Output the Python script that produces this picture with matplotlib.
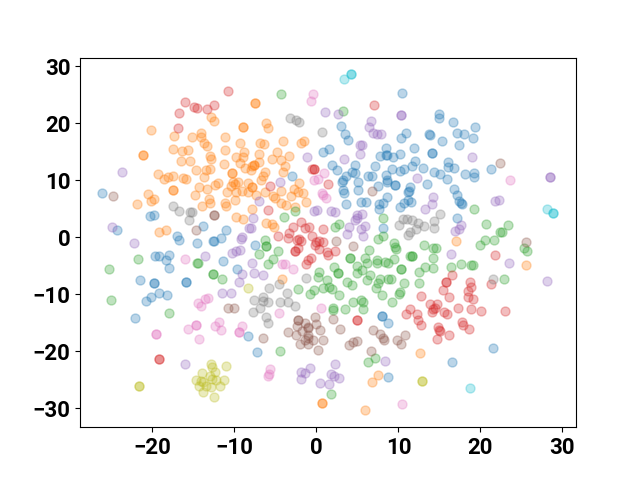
import numpy as np
import matplotlib
matplotlib.use('Agg')
import matplotlib.pyplot as plt

plt.rcParams['font.family'] = ['Roboto', 'DejaVu Sans']

blue = [(-26.11, 7.7), (-20.33, 3.67), (-19.8, 3.84), (-24.32, 1.21), (-13.87, 1.97), (-17.0, 0.27), (-16.76, -0.43),
        (-14.56, -1.01), (-11.02, 1.33), (-11.68, -0.08), (-12.45, -0.6), (-12.57, -0.6), (-19.64, -3.29), (-19.24, -3.35),
        (-17.98, -3.06), (-18.38, -4.0), (-17.94, -5.46), (-11.35, -4.17), (-9.72, -5.57), (-21.47, -7.45), (-19.8, -8.03),
        (-19.8, -8.03), (-15.86, -7.8), (-15.86, -7.8), (-19.2, -9.73), (-20.21, -10.55), (-20.74, -11.19), (-18.26, -10.14),
        (-22.12, -14.11), (-8.34, -17.39), (-7.29, -20.08), (-7.53, -1.42), (-2.94, 10.8),
        (10.48, 25.3), (2.96, 19.45), (3.48, 18.05), (3.89, 17.11), (0.8, 15.0), (1.53, 15.48), (10.88, 18.28), (10.35, 17.35),
        (8.44, 15.65), (7.75, 14.25), (8.48, 14.42), (8.6, 14.42), (9.38, 14.07), (10.23, 14.6), (1.94, 12.61), (2.55, 11.73),
        (4.66, 12.61), (4.34, 11.38), (4.7, 11.26), (3.61, 10.8), (3.28, 10.09), (7.2, 12.49), (6.33, 10.68), (6.82, 10.68),
        (8.48, 10.91), (9.22, 12.02), (10.23, 11.56), (10.72, 12.02), (8.57, 10.09),
        (14.99, 21.67), (14.99, 20.97), (16.65, 20.27), (19.3, 19.33), (17.14, 18.22), (18.0, 18.11), (19.09, 17.4),
        (13.69, 18.17), (13.85, 17.93), (15.35, 16.82), (17.34, 16.18), (11.9, 15.59), (14.09, 14.77), (14.09, 14.77),
        (12.06, 13.43), (11.69, 12.49), (13.04, 12.14), (14.38, 11.5), (15.03, 11.15), (16.08, 13.25), (16.08, 12.31),
        (16.82, 12.08), (18.16, 11.09), (19.26, 11.32), (19.17, 10.56), (15.96, 10.15), (21.33, 11.91),
        (3.28, 8.29), (3.36, 7.7), (3.16, 9.75), (5.11, 8.29), (3.57, 5.77), (5.4, 6.24), (6.0, 6.12), (7.55, 9.05), (8.57, 9.75),
        (9.58, 9.16), (9.58, 9.16), (8.61, 7.12), (7.63, 4.89), (7.67, 5.83), (8.16, 5.95), (10.68, 5.95), (10.19, 5.24),
        (11.21, 6.53), (8.12, 1.68), (5.11, 9.75), (13.52, 9.28), (11.33, 8.11), (11.21, 7.88), (11.49, 6.24), (16.82, 8.46),
        (17.1, 7.41), (17.43, 6.41), (17.63, 5.95), (17.79, 5.77), (17.18, 3.43), (11.37, 8.75),
        (8.0, -13.82), (8.0, -13.82), (8.73, -15.11), (8.73, -24.52), (21.57, -19.43), (16.53, -21.83)]

orange = [(-20.13, 18.81), (-8.95, 19.33), (-8.95, 19.33), (-12.85, 21.03), (-12.49, 20.45), (-17.33, 17.76), (-15.21, 17.64),
          (-14.11, 18.34), (-14.03, 17.58), (-13.75, 16.47), (-13.38, 15.94), (-11.15, 17.52), (-9.28, 16.53), (-17.45, 15.42),
          (-16.43, 15.18), (-15.62, 15.24), (-11.11, 15.3), (-8.79, 14.95), (-12.98, 14.19), (-12.85, 13.78), (-9.85, 14.01),
          (-8.91, 14.01), (-16.47, 13.31), (-15.42, 13.43), (-11.23, 12.79), (-9.32, 12.96), (-14.68, 11.85), (-13.51, 11.85),
          (-12.94, 11.97), (-8.71, 12.08), (-10.29, 11.32), (-10.29, 11.32), (-21.15, 14.42), (-21.15, 14.42), (-19.32, 11.09),
          (-18.55, 10.27), (-18.06, 10.5), (-17.53, 10.8), (-16.23, 10.33), (-15.9, 10.15), (-13.71, 10.62),
          (-7.45, 23.55), (-7.45, 23.55), (-6.15, 20.04), (-5.91, 19.16), (-4.12, 16.82), (-6.84, 16.59), (-6.35, 16.35),
          (-1.47, 16.88), (-1.88, 16.59), (-4.85, 15.0), (-6.96, 14.66), (-5.38, 13.78), (-3.3, 14.19), (-4.28, 13.49), (-7.0, 13.14),
          (-7.61, 12.73), (-7.61, 12.73), (-7.9, 12.43), (-3.87, 12.43), (-4.12, 11.38), (-6.23, 11.5), (-6.47, 10.68), (-6.8, 10.09),
          (-7.98, 11.85),
          (-20.5, 7.58), (-21.88, 5.83), (-19.8, 6.71), (-20.17, 6.41), (-17.45, 8.29), (-17.45, 8.2), (-19.16, 0.86), (-18.34, 1.27),
          (-14.81, 7.47), (-14.28, 8.87), (-13.38, 8.4), (-13.1, 6.65), (-12.98, 5.95), (-13.95, 5.54), (-12.33, 9.16), (-11.96, 9.57),
          (-10.9, 8.0), (-10.46, 8.99), (-9.93, 9.34), (-9.76, 7.93), (-9.03, 8.11), (-9.93, 6.53), (-11.19, 6.06), (-11.0, 5.48),
          (-9.8, 3.49), (-9.0, 3.14), (-8.3, 8.0), (-8.3, 9.57), (-9.52, 9.75), (-10.13, 9.75),
          (-7.82, 8.87), (-7.82, 8.87), (-7.41, 7.41), (-6.27, 7.88), (-5.27, 7.29), (-5.05, 6.82), (-4.36, 8.11), (-4.32, 6.06),
          (-3.75, 5.65), (-3.1, 7.29), (-2.73, 8.46), (-2.08, 9.46), (-2.2, 7.88), (-1.68, 7.82), (-2.61, 5.36), (-1.31, 6.18),
          (-7.9, 4.95), (-6.11, 2.55), (-5.46, 2.26), (-5.17, 1.85), (-4.16, -7.33),
          (17.02, -0.72), (25.6, -4.93), (0.64, -29.14), (0.64, -29.14), (5.88, -30.37), (7.55, -24.11), (6.82, -25.46), (12.67, -20.37)]

green = [(-4.32, 25.12), (3.28, 22.2), (-21.72, -3.82), (-25.25, -5.57), (-25.01, -11.01), (-14.6, -4.58), (-14.4, -4.58),
         (-12.57, -6.45), (-12.57, -6.45), (-11.55, -7.39), (-3.95, 3.61), (-2.61, 4.6), (2.27, 1.85), (2.75, 2.26), (8.16, 3.31),
         (7.55, -0.31), (8.16, 0.27), (-6.27, -0.49), (-6.19, -1.48), (-6.19, -1.48), (-6.96, -2.94), (-4.73, -2.42), (-5.34, -3.82),
         (-5.86, -4.7), (9.46, -0.95), (9.58, -1.66), (9.7, -2.07), (6.41, -2.24), (4.09, -3.7), (4.09, -3.7), (5.92, -3.59),
         (7.35, -4.0), (6.13, -4.58), (4.91, -5.05), (5.52, -5.75), (4.99, -6.33), (7.43, -4.58), (8.36, -4.29), (8.69, -4.58),
         (9.5, -3.88), (10.31, -5.57), (10.31, -5.57), (11.41, -3.29), (6.53, -6.63), (6.13, -7.5), (7.75, -7.39), (8.77, -7.33),
         (9.1, -7.39), (7.47, -8.09), (7.22, -8.97), (7.96, -10.13), (3.69, -7.8), (4.3, -8.38), (10.19, -9.55), (10.11, -10.02),
         (10.72, -7.97), (0.31, -6.04), (0.23, -6.92), (2.18, -5.28), (2.59, -6.33), (2.59, -6.33), (1.25, -7.5), (0.84, -8.97),
         (1.57, -8.67), (1.86, -9.14), (2.75, -10.13), (-0.3, -9.26), (-0.78, -9.96), (-2.21, -9.08), (4.5, -11.3), (5.4, -11.01),
         (5.72, -11.3), (9.18, -11.42), (19.26, 4.89), (20.68, 2.32), (23.32, 2.15), (22.39, 0.98), (22.6, 0.98), (20.52, -0.49),
         (21.61, -0.55), (19.91, -1.36), (25.31, -1.89), (25.64, -2.47), (13.16, -1.42), (14.26, -1.89), (14.54, -1.89),
         (11.69, -3.29), (11.69, -3.29), (14.17, -3.64), (13.24, -5.28), (12.51, -6.1), (14.17, -5.46), (16.41, -5.28), (17.59, -4.7),
         (18.81, -4.81), (19.13, -4.81), (12.55, -8.09), (22.87, -7.39), (-17.94, -13.35), (-4.4, -19.9), (2.06, -12.36),
         (2.06, -12.71), (3.53, -12.59), (5.72, -12.65), (7.14, -21.25), (6.33, -21.95), (1.78, -27.5)]

red = [(-10.78, 25.65), (-16.07, 23.78), (-14.93, 22.79), (-14.6, 22.67), (-12.53, 23.14), (-13.3, 22.43), (-16.72, 21.73),
       (-16.84, 19.1), (7.02, 23.19), (-0.3, 11.97), (-0.3, 11.97), (-0.58, 11.96), (-5.62, 8.99), (1.45, 9.28), (-5.86, 4.78),
       (-2.9, 1.85), (-1.92, 2.73), (-1.39, 1.68), (-0.91, 1.85), (0.76, 1.38), (-3.3, 0.68), (-4.73, 0.22), (-3.51, -0.19),
       (-0.58, 0.27), (-2.08, -0.37), (-1.88, -0.66), (-2.41, -0.49), (-0.05, -0.78), (0.35, -0.66), (0.84, -0.9), (-0.17, -1.36),
       (0.35, -2.12), (-2.21, -1.95), (-2.61, -2.42), (-2.61, -2.42), (1.25, -2.53), (1.45, -3.12), (2.31, -2.36), (-0.7, -3.7),
       (-0.99, -4.0), (-1.31, -4.76), (21.82, -3.12), (21.33, -8.26), (15.76, -7.91), (15.76, -7.91), (16.49, -6.69), (15.39, -9.26),
       (16.21, -10.43), (12.79, -10.31), (18.73, -7.91), (18.89, -8.67), (18.52, -9.43), (18.52, -10.54), (19.05, -10.9),
       (13.85, -11.71), (14.66, -11.77), (-19.2, -21.42), (-19.2, -21.42), (4.99, -14.46), (4.99, -14.46), (10.88, -13.53),
       (11.4, -12.6), (12.22, -13.53), (12.43, -14.52), (12.71, -15.4), (14.46, -12.36), (14.13, -13.18), (14.26, -12.59),
       (15.56, -13.06), (15.92, -13.53), (17.3, -12.42), (18.89, -12.59), (20.11, -13.0), (22.95, -12.88), (17.71, -14.93),
       (17.91, -15.4), (18.65, -16.04), (14.78, -15.81), (15.07, -16.45), (15.0, -16.3), (16.21, -17.15), (14.66, -17.91)]

purple = [(-23.75, 11.5), (1.05, 22.02), (2.63, 21.56), (10.31, 21.38), (10.31, 21.38), (6.7, 20.45), (6.45, 19.33), (6.86, 18.34),
          (7.35, 18.17), (7.92, 18.05), (5.31, 16.2), (5.56, 16.2), (5.31, 14.66), (3.36, 13.78), (-1.15, 14.01), (19.01, 14.13),
          (12.22, 10.39), (28.52, 10.5), (28.52, 10.5), (-24.89, 1.85), (-22.24, -0.95), (-13.59, -3.35), (-9.11, -0.02), (-9.24, -0.37),
          (-8.18, 1.56), (-10.25, -2.71), (-9.8, -2.47), (-9.32, -2.3), (-9.11, -6.51), (-9.44, -7.91), (-11.55, -9.73), (-10.37, -9.84),
          (-7.9, -4.46), (-4.44, 9.75), (-6.96, 6.41), (-0.3, 4.6), (0.11, 4.78), (1.74, 4.66), (2.27, 4.37), (-7.78, 3.43), (-8.02, 1.56),
          (4.99, 3.9), (4.7, 3.02), (4.91, 3.31), (5.52, 4.02), (5.92, 1.97), (3.97, 1.85), (5.4, 1.38), (3.77, 0.51), (5.64, 0.27),
          (-7.65, -6.33), (-6.56, -6.63), (14.21, 7.12), (14.05, 5.83), (13.24, 4.95), (22.3, 6.53), (21.78, 6.36), (17.63, 2.15),
          (17.39, 1.38), (16.9, 1.15), (16.41, -2.88), (23.52, -4.58), (28.12, -7.62), (-16.03, -22.3), (-0.82, -22.88), (-1.88, -23.64),
          (-1.39, -23.82), (-1.88, -24.93), (2.27, -22.3), (1.82, -24.0), (2.1, -24.4), (2.79, -24.64), (0.44, -25.52), (1.53, -25.81),
          (8.4, -21.71)]

brown = [(22.34, 12.96), (-24.76, 7.17), (-12.53, 3.9), (-12.53, 3.9), (-14.64, 1.21), (6.82, 8.11), (2.39, -0.66), (4.5, -1.48),
         (25.6, -0.84), (-10.74, -12.36), (-10.0, -12.36), (-6.52, -17.68), (-2.2, -14.52), (-2.2, -14.52), (-0.17, -14.0), (-0.09, -15.28),
         (-2.33, -15.57), (-1.39, -15.11), (-0.99, -15.69), (-0.99, -15.9), (-1.8, -16.45), (-3.51, -16.57), (-2.53, -17.15), (0.4, -16.33),
         (-0.99, -17.15), (-0.99, -17.62), (-1.39, -18.03), (-0.38, -18.03), (0.8, -17.97), (-2.0, -18.67), (-0.99, -18.67), (0.23, -19.78),
         (2.06, -14.4), (2.83, -16.04), (6.86, -16.28), (7.75, -17.04), (8.08, -17.62), (8.28, -17.97), (9.79, -18.09), (10.8, -17.21),
         (10.36, -18.73), (3.93, -18.97), (4.5, -18.44), (4.91, -18.2), (6.7, -20.02)]

pink = [(-0.42, 25.07), (-0.62, 23.9), (0.92, 11.26), (0.23, 10.27), (-0.3, 10.1), (23.65, 10.09), (-16.03, -3.82), (-14.4, -11.48),
        (-13.18, -10.72), (-13.59, -10.9), (0.64, 7.7), (1.17, 6.82), (0.85, 7.4), (-4.24, -4.7), (-3.83, -4.76), (-2.82, -5.57),
        (-19.56, -17.04), (-19.56, -17.04), (-14.68, -15.4), (-14.68, -15.4), (-15.62, -16.04), (-14.32, -17.91), (-12.37, -15.63),
        (-11.84, -14.87), (-11.59, -16.33), (-9.11, -15.52), (-9.44, -16.69), (-9.44, -16.69), (-14.03, -12.07), (-4.6, -13.35),
        (0.6, -12.36), (-5.7, -23.12), (-5.74, -24.0), (-5.95, -24.35), (10.48, -29.2)]

gray = [(-3.26, 20.85), (-2.49, 20.5), (-2.12, 20.21), (0.64, 18.52), (-17.53, 5.48), (-16.8, 4.54), (-15.42, 4.37), (-15.13, 4.48),
        (-15.54, 2.96), (-1.27, -7.09), (-5.74, -8.97), (-4.56, -8.2), (-7.57, -11.01), (-6.47, -10.43), (-6.47, -11.13), (-5.87, -11.3),
        (-4.44, -11.3), (-3.63, -9.84), (-3.43, -11.3), (10.07, 2.15), (10.6, 3.14), (15.03, 4.13), (14.38, 2.9), (14.38, 1.62),
        (13.16, 1.97), (12.35, 2.44), (12.14, 1.44), (11.61, 3.02), (11.0, 3.2), (11.41, 0.98), (11.21, 0.39), (21.57, -7.33),
        (-7.69, -13.18), (-6.88, -12.36), (-6.19, -14.05), (-5.95, -15.05), (-2.61, -12.07)]

olive = [(-8.3, -8.91), (-21.68, -26.04), (-21.68, -26.04), (-12.81, -22.18), (-12.69, -22.83), (-11.03, -22.65), (-12.33, -23.59),
         (-13.99, -23.88), (-12.98, -24.35), (-14.64, -25.0), (-14.11, -25.22), (-13.79, -25.34), (-12.69, -24.87), (-12.24, -25.05),
         (-11.27, -25.0), (-14.28, -26.16), (-13.46, -26.1), (-12.81, -26.28), (-11.76, -26.16), (-13.83, -27.15), (-12.45, -27.97),
         (12.91, -25.28), (12.91, -25.28)]

cyan = [(4.26, 28.57), (4.26, 28.57), (3.4, 27.7), (28.16, 4.95), (28.89, 4.19), (28.89, 4.19), (18.69, -26.45)]

classes = [blue, orange, green, red, purple, brown, pink, gray, olive, cyan]

fig, ax = plt.subplots(figsize=(6.4, 4.8), dpi=100)
cmap = plt.get_cmap('tab10')
for i, pts in enumerate(classes):
    pts = np.array(pts)
    ax.scatter(pts[:, 0], pts[:, 1], color=cmap(i), alpha=0.3, s=42)

ax.set_xlim(-28.83, 31.66)
ax.set_ylim(-33.3, 31.5)
ax.set_xticks([-20, -10, 0, 10, 20, 30])
ax.set_yticks([-30, -20, -10, 0, 10, 20, 30])
ax.tick_params(labelsize=16)
for lab in ax.get_xticklabels() + ax.get_yticklabels():
    lab.set_fontweight('bold')

plt.savefig('out.png', dpi=100)
